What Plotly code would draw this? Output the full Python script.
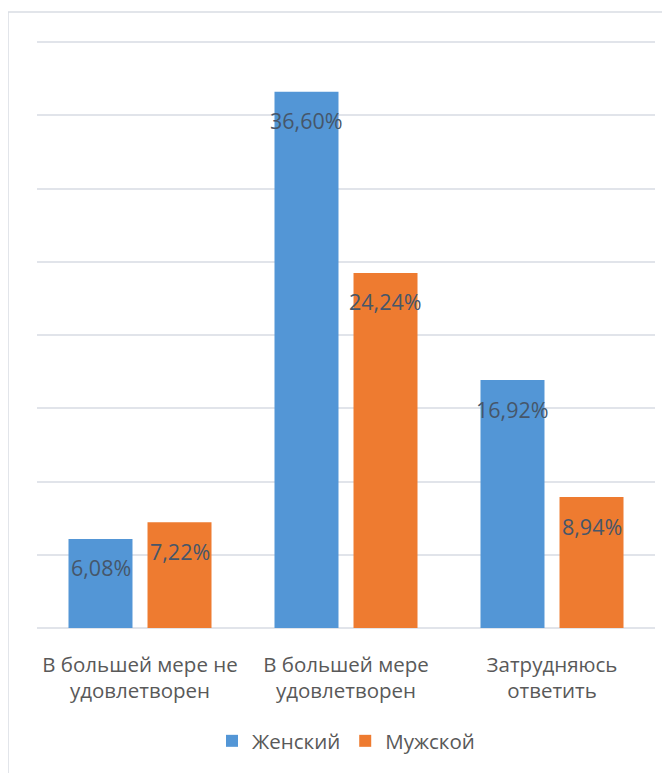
import plotly.graph_objects as go

categories = ["В большей мере не<br>удовлетворен", "В большей мере<br>удовлетворен", "Затрудняюсь<br>ответить"]
series_names = ["Женский", "Мужской"]
female = [6.08, 36.60, 16.92]
male = [7.22, 24.24, 8.94]
value_labels_f = ["6,08%", "36,60%", "16,92%"]
value_labels_m = ["7,22%", "24,24%", "8,94%"]

# page body has an 8px margin, so the figure is drawn 8px smaller/offset
OFF = 8
W, H = 670 - OFF, 773 - OFF
ML, MR, MT, MB = 37 - OFF, 15, 27, 145
plot_h = H - MT - MB
plot_w = W - ML - MR
y_top = 40 * plot_h / 586.0  # 40% line sits at page y=42

blue = "#5396d6"
orange = "#ee7b30"
label_color = "#46566a"
axis_text = "#595959"
grid = "#e1e4ea"
font_family = "Open Sans, Noto Sans, sans-serif"

fig = go.Figure()
fig.add_trace(go.Bar(name=series_names[0], x=categories, y=female, marker=dict(color=blue, line=dict(width=0))))
fig.add_trace(go.Bar(name=series_names[1], x=categories, y=male, marker=dict(color=orange, line=dict(width=0))))

# data labels inside the bars, below the top
slot_px = 79
for vals, labs, sign in [(female, value_labels_f, -1), (male, value_labels_m, 1)]:
    for c, v, t in zip(categories, vals, labs):
        fig.add_annotation(x=c, y=v, text=t, showarrow=False, xshift=sign * slot_px / 2,
                           yshift=-29, yanchor="middle", xanchor="center",
                           font=dict(size=21.5, color=label_color, family=font_family))

def px_x(p):  # page pixel -> paper x
    return (p - OFF - ML) / plot_w

def px_y(p):  # page pixel -> paper y
    return (H - MB - (p - OFF)) / plot_h

# outer chart border
fig.add_shape(type="rect", xref="paper", yref="paper",
              x0=px_x(8), x1=px_x(W + 20), y0=px_y(H + 30), y1=px_y(12),
              line=dict(color="#d9dde3", width=1.5), fillcolor="rgba(0,0,0,0)", layer="below")

fig.update_layout(
    width=W, height=H,
    margin=dict(l=ML, r=MR, t=MT, b=MB),
    paper_bgcolor="white", plot_bgcolor="white",
    barmode="group", bargap=0.233, bargroupgap=0.19,
    font=dict(family=font_family, color=axis_text),
    showlegend=True,
    legend=dict(orientation="h", x=0.5, xanchor="center", y=px_y(741), yanchor="middle",
                font=dict(size=20.5, color=axis_text), traceorder="normal"),
    yaxis=dict(range=[0, y_top], tick0=0, dtick=5, showticklabels=False, showgrid=True, gridcolor=grid, gridwidth=2,
               zeroline=True, zerolinecolor=grid, zerolinewidth=2, showline=False, fixedrange=True),
    xaxis=dict(showline=False, ticks="", tickfont=dict(size=20.5, color=axis_text), ticklabelstandoff=22),
)

fig.write_html("out.html")
